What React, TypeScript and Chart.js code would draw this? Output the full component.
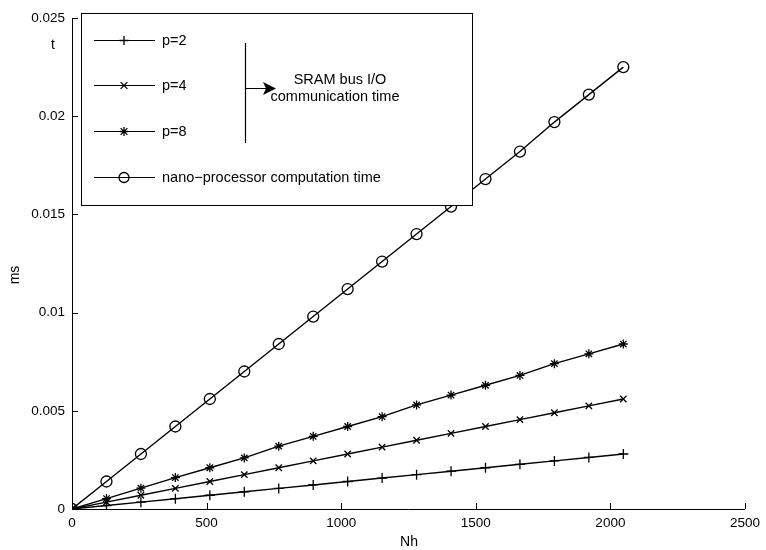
import React, { useEffect, useRef } from "react";
import { Chart, registerables } from "chart.js";

Chart.register(...registerables);

const nh = [0, 128, 256, 384, 512, 640, 768, 896, 1024, 1152, 1280, 1408, 1536, 1664, 1792, 1920, 2048];
const p2 = [0, 0.000175, 0.00035, 0.000525, 0.0007, 0.000875, 0.00105, 0.001225, 0.0014, 0.001575, 0.00175, 0.001925, 0.0021, 0.002275, 0.00245, 0.002625, 0.0028];
const p4 = [0, 0.00035, 0.0007, 0.00105, 0.0014, 0.00175, 0.0021, 0.00245, 0.0028, 0.00315, 0.0035, 0.00385, 0.0042, 0.00455, 0.0049, 0.00525, 0.0056];
const p8 = [0, 0.00053, 0.00106, 0.0016, 0.0021, 0.0026, 0.0032, 0.0037, 0.0042, 0.0047, 0.0053, 0.0058, 0.0063, 0.0068, 0.0074, 0.0079, 0.0084];
const comp = [0, 0.0014, 0.0028, 0.0042, 0.0056, 0.007, 0.0084, 0.0098, 0.0112, 0.0126, 0.014, 0.0154, 0.0168, 0.0182, 0.0197, 0.0211, 0.0225];

const xTicks = [0, 500, 1000, 1500, 2000, 2500];
const yTicks = [0, 0.005, 0.01, 0.015, 0.02, 0.025];
const yTickLabels = ["0", "0.005", "0.01", "0.015", "0.02", "0.025"];

const legendLabels = ["p=2", "p=4", "p=8", "nano\u2212processor computation time"];
const legendMarkers = ["cross", "crossRot", "star", "circle"];
const annotationLines = ["SRAM bus I/O", "communication time"];

const FONT = "Liberation Sans, Arial, Helvetica, sans-serif";

function drawMarker(ctx: CanvasRenderingContext2D, style: string, x: number, y: number) {
  ctx.save();
  ctx.strokeStyle = "#000";
  ctx.lineWidth = 1.3;
  ctx.beginPath();
  const r = 4.5;
  if (style === "cross" || style === "star") {
    ctx.moveTo(x - r, y); ctx.lineTo(x + r, y);
    ctx.moveTo(x, y - r); ctx.lineTo(x, y + r);
  }
  if (style === "crossRot" || style === "star") {
    const d = r * 0.75;
    ctx.moveTo(x - d, y - d); ctx.lineTo(x + d, y + d);
    ctx.moveTo(x - d, y + d); ctx.lineTo(x + d, y - d);
  }
  if (style === "circle") {
    ctx.arc(x, y, 5, 0, Math.PI * 2);
  }
  ctx.stroke();
  ctx.restore();
}

const decorPlugin = {
  id: "decor",
  afterDraw(chart: any) {
    const ctx: CanvasRenderingContext2D = chart.ctx;
    const xs = chart.scales.x;
    const ys = chart.scales.y;
    const area = chart.chartArea;
    ctx.save();
    ctx.strokeStyle = "#000";
    ctx.lineWidth = 1;
    // inward ticks
    const tl = 6;
    ctx.beginPath();
    xTicks.forEach((v) => {
      const px = Math.round(xs.getPixelForValue(v)) + 0.5;
      ctx.moveTo(px, area.bottom);
      ctx.lineTo(px, area.bottom - tl);
    });
    yTicks.forEach((v) => {
      const py = Math.round(ys.getPixelForValue(v)) + 0.5;
      ctx.moveTo(area.left, py);
      ctx.lineTo(area.left + tl, py);
    });
    ctx.stroke();

    // axis titles
    ctx.fillStyle = "#000";
    ctx.font = `14px ${FONT}`;
    ctx.textAlign = "center";
    ctx.textBaseline = "middle";
    ctx.fillText("Nh", 409, 542);
    ctx.fillText("t", 53, 45);
    ctx.save();
    ctx.translate(15, 275);
    ctx.rotate(-Math.PI / 2);
    ctx.fillText("ms", 0, 0);
    ctx.restore();

    // legend box
    const bx = 81, by = 13, bw = 391, bh = 192;
    ctx.fillStyle = "#fff";
    ctx.fillRect(bx, by, bw, bh);
    ctx.strokeStyle = "#000";
    ctx.lineWidth = 1;
    ctx.strokeRect(bx + 0.5, by + 0.5, bw, bh);

    const rowsY = [40, 85, 131, 177];
    ctx.font = `14.5px ${FONT}`;
    ctx.textAlign = "left";
    ctx.textBaseline = "middle";
    legendLabels.forEach((lab, i) => {
      const y = rowsY[i];
      ctx.beginPath();
      ctx.lineWidth = 1.2;
      ctx.moveTo(94, y + 0.5);
      ctx.lineTo(155, y + 0.5);
      ctx.stroke();
      drawMarker(ctx, legendMarkers[i], 124, y + 0.5);
      ctx.fillStyle = "#000";
      ctx.fillText(lab, 162, y + 1);
    });

    // bracket line + arrow
    ctx.lineWidth = 1.2;
    ctx.beginPath();
    ctx.moveTo(245.5, 43);
    ctx.lineTo(245.5, 143);
    ctx.moveTo(245.5, 88.5);
    ctx.lineTo(268, 88.5);
    ctx.stroke();
    ctx.beginPath();
    ctx.moveTo(276, 88.5);
    ctx.lineTo(263, 82);
    ctx.lineTo(266, 88.5);
    ctx.lineTo(263, 95);
    ctx.closePath();
    ctx.fill();

    ctx.textAlign = "center";
    ctx.fillText(annotationLines[0], 340, 80);
    ctx.fillText(annotationLines[1], 335, 97);
    ctx.restore();
  },
};

export default function App() {
  const ref = useRef<HTMLCanvasElement | null>(null);
  useEffect(() => {
    if (!ref.current) return;
    const mk = (data: number[], style: string, radius: number) => ({
      data: nh.map((x, i) => ({ x, y: data[i] })),
      borderColor: "#000",
      backgroundColor: "rgba(0,0,0,0)",
      borderWidth: 1.4,
      pointStyle: style,
      pointRadius: radius,
      pointBorderColor: "#000",
      pointBorderWidth: 1.3,
      pointBackgroundColor: "rgba(0,0,0,0)",
      tension: 0,
      fill: false,
    });
    const chart = new Chart(ref.current, {
      type: "line",
      data: {
        datasets: [
          { label: "p=2", ...mk(p2, "cross", 5) },
          { label: "p=4", ...mk(p4, "crossRot", 4.5) },
          { label: "p=8", ...mk(p8, "star", 4.5) },
          { label: "computation", ...mk(comp, "circle", 5.5) },
        ],
      } as any,
      options: {
        animation: false,
        responsive: false,
        maintainAspectRatio: false,
        events: [],
        layout: { padding: { top: 18, right: 18, left: 0, bottom: 0 } },
        plugins: { legend: { display: false }, tooltip: { enabled: false } },
        scales: {
          x: {
            type: "linear",
            min: 0,
            max: 2500,
            afterFit: (s: any) => { s.height = 41; },
            afterBuildTicks: (s: any) => { s.ticks = xTicks.map((v) => ({ value: v })); },
            grid: { display: false, drawTicks: false },
            border: { display: true, color: "#000", width: 1 },
            ticks: { color: "#000", font: { family: FONT, size: 13.5 }, padding: 6, maxRotation: 0, autoSkip: false, callback: (v: any) => String(v) },
          },
          y: {
            type: "linear",
            min: 0,
            max: 0.025,
            afterFit: (s: any) => { s.width = 72; },
            afterBuildTicks: (s: any) => { s.ticks = yTicks.map((v) => ({ value: v })); },
            grid: { display: false, drawTicks: false },
            border: { display: true, color: "#000", width: 1 },
            ticks: {
              color: "#000",
              font: { family: FONT, size: 13.5 },
              padding: 7,
              autoSkip: false,
              callback: (v: any) => {
                const i = yTicks.findIndex((t) => Math.abs(t - Number(v)) < 1e-9);
                return i >= 0 ? yTickLabels[i] : "";
              },
            },
          },
        },
      } as any,
      plugins: [decorPlugin],
    });
    return () => chart.destroy();
  }, []);
  return (
    <div style={{ position: "fixed", left: 0, top: 0, width: 766, height: 550, background: "#fff" }}>
      <canvas ref={ref} width={766} height={550} style={{ width: 766, height: 550, display: "block" }} />
    </div>
  );
}
